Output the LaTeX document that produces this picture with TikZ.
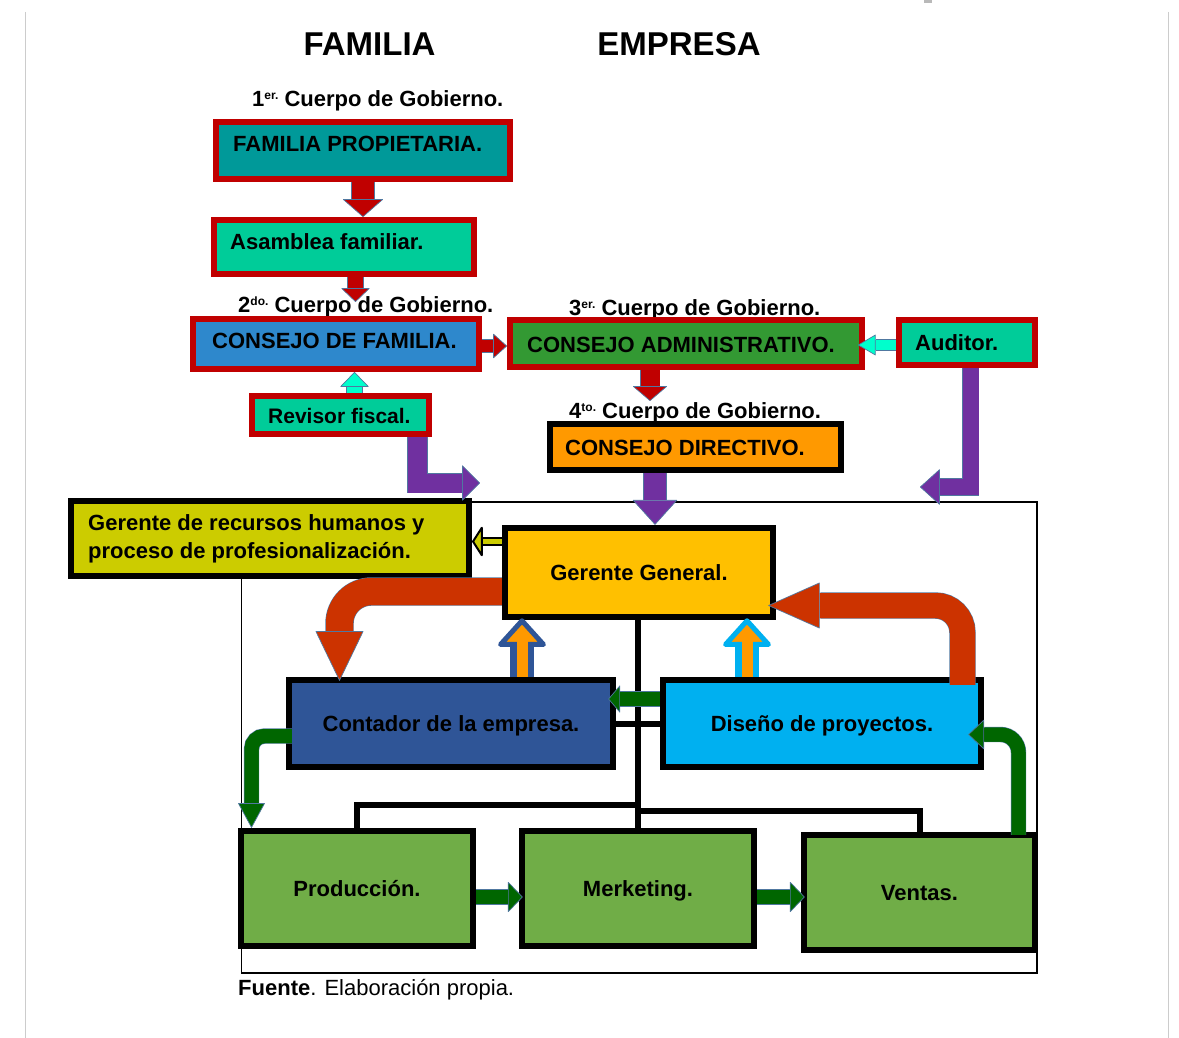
\documentclass[tikz,border=0pt]{standalone}
\usepackage{fontspec}
\setmainfont{Liberation Sans}
\usetikzlibrary{arrows.meta,calc}

\definecolor{boxred}{RGB}{192,0,0}
\definecolor{famteal}{RGB}{0,153,153}
\definecolor{mint}{RGB}{0,204,153}
\definecolor{famblue}{RGB}{46,136,204}
\definecolor{admgreen}{RGB}{51,153,51}
\definecolor{dirorange}{RGB}{255,153,0}
\definecolor{rhyellow}{RGB}{204,204,0}
\definecolor{gold}{RGB}{255,192,0}
\definecolor{navy}{RGB}{47,85,151}
\definecolor{sky}{RGB}{0,176,240}
\definecolor{leaf}{RGB}{112,173,71}
\definecolor{rust}{RGB}{204,51,0}
\definecolor{violet7}{RGB}{112,48,160}
\definecolor{forest}{RGB}{0,102,0}
\definecolor{aqua}{RGB}{0,255,204}
\definecolor{edgeb}{RGB}{80,120,160}
\definecolor{arrred}{RGB}{192,0,0}

\newcommand\supx[1]{\raisebox{7pt}{\fontsize{12}{12}\selectfont #1}}

\pgfdeclarelayer{back}
\pgfsetlayers{back,main}

\begin{document}
\begin{tikzpicture}[x=1pt, y=-1pt,
  redbox/.style={draw=boxred, line width=6pt, inner sep=0pt},
  blkbox/.style={draw=black, line width=6.5pt, inner sep=0pt,
    font=\fontsize{22}{26}\selectfont\bfseries, text height=16pt, text depth=0pt},
  lbl/.style={inner sep=0pt, anchor=base west, font=\fontsize{22}{26}\selectfont\bfseries},
  ttl/.style={inner sep=0pt, anchor=base, font=\fontsize{33}{36}\selectfont\bfseries},
  tree/.style={draw=black, line width=6pt},
  % block arrow: fill / edge / outer shaft / inner shaft / tip edge width /
  %              head width / head length / edge-shaft cut / inner-shaft cut
  barrx/.style args={#1/#2/#3/#4/#5/#6/#7/#8/#9}{%
    draw=#1, line width=#4, line join=miter,
    preaction={draw=#2, line width=#3, arrows=-, shorten >=#8},
    arrows={-Triangle[width=#6, length=#7, fill=#1, color=#2, line width=#5, round]},
    postaction={draw=#1, line width=#4, arrows=-, shorten >=#9}},
  % thin-edged block arrow: fill / outer shaft / inner shaft / head width / head length
  barr/.style args={#1/#2/#3/#4/#5}{barrx=#1/edgeb/#2/#3/0.7pt/#4/#5/#5/#5},
]
\useasboundingbox (0,0) rectangle (1179,1038);

% ---------- titles ----------
\node[ttl] (tFam) at (369.5,56) {FAMILIA};
\node[ttl] (tEmp) at (679,56) {EMPRESA};

% ---------- governing bodies ----------
\node[lbl] (g1) at (252,107) {1\supx{er.} Cuerpo de Gobierno.};
\node[redbox, fill=famteal, minimum width=294pt, minimum height=57pt] (fp) at (363,150.5) {};
\node[lbl] (fpT) at (233,152) {FAMILIA PROPIETARIA.};

\node[redbox, fill=mint, minimum width=260pt, minimum height=54pt] (asm) at (344,247) {};
\node[lbl] (asmT) at (230,250) {Asamblea familiar.};

\node[lbl] (g2) at (238,312) {2\supx{do.} Cuerpo de Gobierno.};
\node[redbox, fill=famblue, minimum width=286pt, minimum height=50pt] (cf) at (336,344) {};
\node[lbl] (cfT) at (212,348) {CONSEJO DE FAMILIA.};

\node[redbox, fill=mint, minimum width=177pt, minimum height=38pt] (rev) at (340.5,415) {};
\node[lbl, font=\fontsize{21}{26}\selectfont\bfseries] (revT) at (268,423) {Revisor fiscal.};

\node[lbl] (g3) at (569,315) {3\supx{er.} Cuerpo de Gobierno.};
\node[redbox, fill=admgreen, minimum width=352pt, minimum height=47pt] (ca) at (686,343.5) {};
\node[lbl] (caT) at (527,352) {CONSEJO ADMINISTRATIVO.};

\node[redbox, fill=mint, minimum width=136pt, minimum height=45pt] (aud) at (967,342.5) {};
\node[lbl] (audT) at (915,350) {Auditor.};

\node[lbl] (g4) at (569,418) {4\supx{to.} Cuerpo de Gobierno.};
\node[blkbox, fill=dirorange, minimum width=291pt, minimum height=46pt] (cd) at (695.5,447) {};
\node[lbl] (cdT) at (565,455) {CONSEJO DIRECTIVO.};

% ---------- company ----------
\node[blkbox, line width=6pt, fill=rhyellow, minimum width=398pt, minimum height=75pt] (rh) at (270,538.5) {};
\node[lbl] (rhT1) at (88,530) {Gerente de recursos humanos y};
\node[lbl] (rhT2) at (88,558) {proceso de profesionalización.};

\node[blkbox, fill=gold, minimum width=268pt, minimum height=89pt] (gg) at (639,572.5) {Gerente General.};
\node[blkbox, fill=navy, minimum width=324pt, minimum height=87pt] (cont) at (451,723.5) {Contador de la empresa.};
\node[blkbox, fill=sky, minimum width=318pt, minimum height=87pt] (dis) at (822,723.5) {Diseño de proyectos.};
\node[blkbox, fill=leaf, minimum width=232pt, minimum height=115pt] (prod) at (357,888.5) {Producción.};
\node[blkbox, fill=leaf, minimum width=232pt, minimum height=115pt] (merk) at (638,888.5) {Merketing.};
\node[blkbox, fill=leaf, minimum width=231pt, minimum height=115pt] (ven) at (919.5,892.5) {Ventas.};

\node[inner sep=0pt, anchor=base west, font=\fontsize{22}{26}\selectfont] (src) at (238,995)
  {\textbf{Fuente}. Elaboración propia.};

\coordinate (revEnd) at (480,483);
\coordinate (audEnd) at (920,487);

% ---------- frame, page edges and hierarchy lines ----------
\begin{pgfonlayer}{back}
  \fill[gray!55] (924,0) rectangle (932,3);
  \draw[gray!40, line width=1.5pt] (25.5,12) -- (25.5,1038);
  \draw[gray!40, line width=1.5pt] (1168.5,12) -- (1168.5,1038);
  \draw[line width=1.2pt] (241.5,502) rectangle (1037,973);
  \draw[tree] (merk.north |- gg.south) -- (merk.north);
  \draw[tree] (cont.east) -- (dis.west);
  \draw[tree, line join=miter] (prod.north) |- ($(merk.north)+(0,-23)$);
  \draw[tree, line join=miter] (ven.north) |- ($(merk.north)+(0,-17)$);
\end{pgfonlayer}

% ---------- family side arrows ----------
\draw[barr=arrred/23.4pt/22pt/41pt/18pt] (fp.south) -- (fp.south |- asm.north);
\draw[barr=arrred/16.4pt/15pt/29pt/14pt] ($(asm.south)+(11.5,0)$) -- ++(0,25);
\draw[barr=arrred/13.4pt/12pt/25pt/14pt] ($(cf.east)+(0,2)$) -- ($(cf.east -| ca.west)+(0,2)$);
\draw[barr=aqua/11.4pt/10pt/21pt/18pt] ($(aud.west)+(0,2.5)$) -- ($(aud.west -| ca.east)+(-7,2.5)$);
\draw[barr=arrred/20.4pt/19pt/35pt/15pt] ($(ca.south)+(-36,0)$) -- ++(0,31);
\draw[barr=aqua/16.4pt/15pt/29pt/15pt] ($(rev.north)+(14,0)$) -- ($(rev.north |- cf.south)+(14,0)$);

% ---------- purple links into the company ----------
\draw[barr=violet7/20.4pt/19pt/36pt/18pt] ($(rev.south)+(77,0)$) |- (revEnd);
\draw[barr=violet7/17.4pt/16pt/36pt/20pt] ($(aud.south)+(3.5,0)$) |- (audEnd);
\draw[barr=violet7/23.4pt/22pt/45pt/25pt] ($(cd.south)+(-40.5,0)$) -- ($(cd.south |- gg.north)+(-40.5,0)$);

% ---------- company arrows ----------
\draw[barrx=rhyellow/black/9pt/5pt/2pt/34pt/11pt/11pt/11pt] ($(gg.west)+(0,-31)$) -- ($(gg.west -| rh.east)+(0,-31)$);
\draw[barr=rust/28.4pt/27pt/48pt/50pt, rounded corners=32pt]
  ($(gg.west)+(0,19)$) -| ($(cont.north)+(-111.5,4)$);
\draw[barr=rust/26.4pt/25pt/46pt/52pt, rounded corners=27pt]
  ($(dis.north)+(140.5,8)$) |- ($(gg.east)+(-8,33)$);
\draw[barrx=dirorange/navy/24pt/11pt/5pt/53pt/30pt/20pt/20pt] ($(cont.north)+(71,0)$) -- ($(cont.north |- gg.south)+(71,-2)$);
\draw[barrx=dirorange/sky/24pt/11pt/5pt/53pt/30pt/20pt/20pt] ($(dis.north)+(-75,0)$) -- ($(dis.north |- gg.south)+(-75,-2)$);
\draw[barr=forest/15.4pt/14pt/28pt/12pt] ($(dis.west)+(0,-24.5)$) -- ($(dis.west -| cont.east)+(-8,-24.5)$);
\draw[barr=forest/15.4pt/14pt/27pt/25pt, rounded corners=13pt]
  ($(cont.west)+(6,12.5)$) -| ($(prod.north)+(-105.5,0)$);
\draw[barr=forest/15.4pt/14pt/30pt/16pt, rounded corners=18pt]
  ($(ven.north)+(99,3)$) |- ($(dis.east)+(-16,11)$);
\draw[barr=forest/15.4pt/14pt/31pt/15pt] ($(prod.east)+(0,8.5)$) -- ($(prod.east -| merk.west)+(4,8.5)$);
\draw[barr=forest/15.4pt/14pt/31pt/15pt] ($(merk.east)+(0,8.5)$) -- ($(merk.east -| ven.west)+(4,8.5)$);
\end{tikzpicture}
\end{document}
